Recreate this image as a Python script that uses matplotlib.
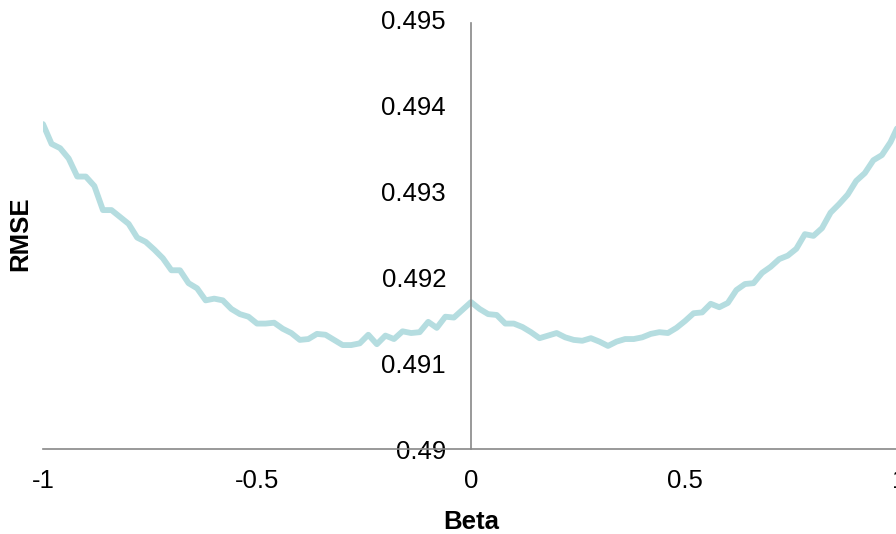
import numpy as np
import matplotlib
matplotlib.use("Agg")
import matplotlib.pyplot as plt

plt.rcParams["font.family"] = ["Liberation Sans", "DejaVu Sans"]
plt.rcParams["axes.unicode_minus"] = False

# RMSE for beta in [-1, 1], step 0.02
beta = np.round(np.linspace(-1, 1, 101), 2)
rmse = [
    0.49378, 0.49355, 0.49350, 0.49338, 0.49317, 0.49317, 0.49306, 0.49278,
    0.49278, 0.49270, 0.49262, 0.49246, 0.49241, 0.49232, 0.49222, 0.49208,
    0.49208, 0.49193, 0.49187, 0.49173, 0.49175, 0.49173, 0.49163, 0.49157,
    0.49154, 0.49146, 0.49146, 0.49147, 0.49140, 0.49135, 0.49127, 0.49128,
    0.49134, 0.49133, 0.49127, 0.49121, 0.49121, 0.49123, 0.49133, 0.49122,
    0.49132, 0.49128, 0.49137, 0.49135, 0.49136, 0.49148, 0.49141, 0.49154,
    0.49153, 0.49162, 0.49171,
    0.49163, 0.49157, 0.49156, 0.49146, 0.49146, 0.49142, 0.49136, 0.49129,
    0.49132, 0.49135, 0.49130, 0.49127, 0.49126, 0.49129, 0.49125, 0.49120,
    0.49125, 0.49128, 0.49128, 0.49130, 0.49134, 0.49136, 0.49135, 0.49141,
    0.49149, 0.49158, 0.49159, 0.49169, 0.49165, 0.49170, 0.49185, 0.49192,
    0.49193, 0.49205, 0.49212, 0.49221, 0.49225, 0.49233, 0.49250, 0.49248,
    0.49257, 0.49275, 0.49285, 0.49296, 0.49312, 0.49321, 0.49336, 0.49342,
    0.49357, 0.49378,
]

x_ticks = [-1, -0.5, 0, 0.5, 1]
x_labels = ["-1", "-0.5", "0", "0.5", "1"]
y_ticks = [0.49, 0.491, 0.492, 0.493, 0.494, 0.495]
y_labels = ["0.49", "0.491", "0.492", "0.493", "0.494", "0.495"]

fig = plt.figure(figsize=(8.96, 5.34), dpi=100)
ax = fig.add_axes([0.048, 0.159, 0.9554, 0.805])

ax.plot(beta, rmse, color="#B5DDE0", linewidth=4.2, solid_capstyle="round")

ax.set_xlim(-1, 1)
ax.set_ylim(0.49, 0.495)

# axes cross at beta = 0 and RMSE = 0.49
ax.spines["left"].set_position(("data", 0))
ax.spines["bottom"].set_position(("data", 0.49))
ax.spines["right"].set_visible(False)
ax.spines["top"].set_visible(False)
for side in ("left", "bottom"):
    ax.spines[side].set_color("#878787")
    ax.spines[side].set_linewidth(1.2)
ax.spines["left"].set_bounds(0.49, 0.49496)

ax.set_xticks(x_ticks)
ax.set_xticklabels(x_labels)
ax.set_yticks(y_ticks)
ax.set_yticklabels(y_labels)
ax.tick_params(axis="y", length=0, pad=18, labelsize=18.5)
ax.tick_params(axis="x", length=0, pad=14, labelsize=18.5)

ax.set_xlabel("Beta", fontsize=18.5, fontweight="bold")
ax.set_ylabel("RMSE", fontsize=18.5, fontweight="bold")
ax.xaxis.set_label_coords(0.5, -0.142)
ax.yaxis.set_label_coords(-0.012, 0.5)

fig.savefig("out.png", dpi=100)
plt.close(fig)
